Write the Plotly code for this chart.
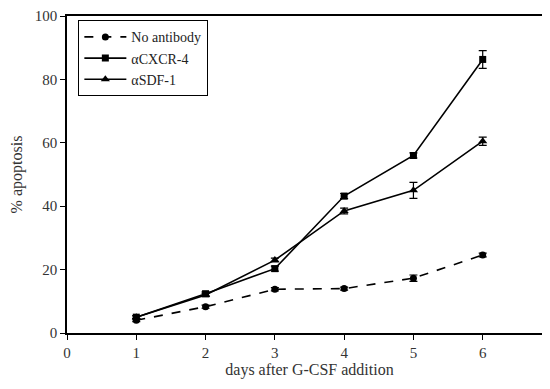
import plotly.graph_objects as go

days = [1, 2, 3, 4, 5, 6]
no_antibody = [4.0, 8.3, 13.8, 14.0, 17.3, 24.6]
no_antibody_err = [0.4, 0.5, 0.5, 0.5, 1.0, 0.6]
cxcr4 = [5.0, 12.4, 20.3, 43.2, 56.0, 86.3]
cxcr4_err = [0.5, 0.6, 0.8, 0.8, 0.8, 2.8]
sdf1 = [5.0, 12.0, 23.0, 38.5, 45.0, 60.5]
sdf1_err = [0.4, 0.5, 0.6, 0.9, 2.5, 1.3]
x_ticks = [0, 1, 2, 3, 4, 5, 6, 7]
y_ticks = [0, 20, 40, 60, 80, 100]

FONT = "Liberation Serif"

fig = go.Figure()

def add(name, y, err, symbol, dash, size):
    fig.add_trace(go.Scatter(
        x=days, y=y, name=name, mode="lines+markers",
        line=dict(color="black", width=1.6, dash=dash),
        marker=dict(symbol=symbol, size=size, color="black"),
        error_y=dict(type="data", array=err, visible=True, color="black",
                     thickness=1.2, width=4),
        cliponaxis=False,
    ))

add("No antibody", no_antibody, no_antibody_err, "circle", "dash", 7)
add("αCXCR-4", cxcr4, cxcr4_err, "square", "solid", 7)
add("αSDF-1", sdf1, sdf1_err, "triangle-up", "solid", 8)

fig.update_layout(
    width=550, height=389,
    margin=dict(l=59, r=6, t=8, b=64, autoexpand=False),
    paper_bgcolor="white", plot_bgcolor="white",
    font=dict(family=FONT, size=15, color="#333"),
    showlegend=True,
    legend=dict(x=0.023, y=0.987, xanchor="left", yanchor="top",
                bordercolor="black", borderwidth=1.2, bgcolor="white",
                font=dict(family=FONT, size=14, color="#222"),
                tracegroupgap=0, itemwidth=42),
    xaxis=dict(range=[0, 7], tickvals=x_ticks, ticks="outside", ticklen=5,
               tickcolor="black", showline=True, linecolor="black", linewidth=1.6,
               mirror=True, showgrid=False, zeroline=False, automargin=False,
               ticklabeloverflow="allow",
               title=dict(text="days after G-CSF addition", standoff=4,
                          font=dict(family=FONT, size=16, color="#333"))),
    yaxis=dict(range=[0, 100], tickvals=y_ticks, ticks="outside", ticklen=5,
               tickcolor="black", showline=True, linecolor="black", linewidth=1.6,
               mirror=True, showgrid=False, zeroline=False, automargin=False,
               title=dict(text="% apoptosis", standoff=10,
                          font=dict(family=FONT, size=16, color="#333"))),
)

fig.write_html("out.html")
